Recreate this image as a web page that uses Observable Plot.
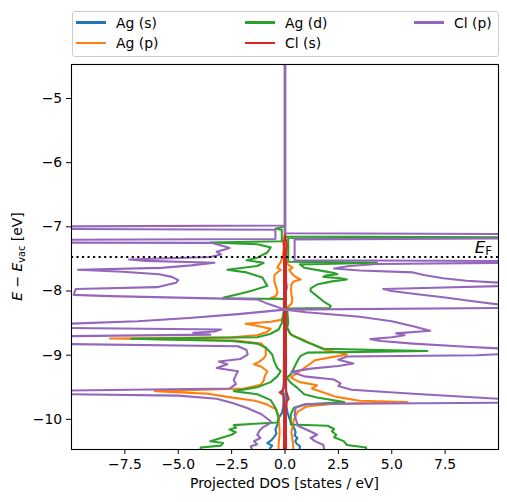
<!DOCTYPE html>
<html><head><meta charset="utf-8">
<script src="https://cdn.jsdelivr.net/npm/d3@7"></script>
<script src="https://cdn.jsdelivr.net/npm/@observablehq/plot@0.6"></script>
<style>
body{margin:0;background:#fff;font-family:"DejaVu Sans",sans-serif;}
#wrap{position:relative;width:507px;height:502px;overflow:hidden;}
#chart{position:absolute;left:0;top:0;}
#legend{position:absolute;left:71.5px;top:10.5px;width:427px;height:46px;border:1px solid #cccccc;border-radius:3px;background:rgba(255,255,255,0.8);box-sizing:border-box;font-size:13.9px;color:#000;z-index:2;}
.item{position:absolute;display:flex;align-items:center;height:16px;white-space:nowrap;}
.sw{width:29.5px;height:2.1px;margin-right:10.5px;}
</style></head>
<body><div id="wrap"><div id="chart"></div><div id="legend"></div></div>
<script>
const EF = -7.47;
const xLimits = [-10, 10];
const yLimits = [-10.47, -4.47];
const xTicks = [-7.5, -5, -2.5, 0, 2.5, 5, 7.5];
const yTicks = [-10, -9, -8, -7, -6, -5];
const species = ["Ag (s)", "Ag (p)", "Ag (d)", "Cl (s)", "Cl (p)"];
const colors = ["#1f77b4", "#ff7f0e", "#2ca02c", "#d62728", "#9467bd"];

// [energy (eV), projected DOS] pairs, spin up (+) and spin down (-)
const agS_up = [[-4.3,0],[-7.2,0],[-7.5,0.03],[-8.3,0.04],[-9.0,0.05],[-9.5,0.05],[-9.8,0.07],[-9.9,0.12],[-10.0,0.22],[-10.06,0.3],[-10.13,0.42],[-10.2,0.5],[-10.25,0.45],[-10.29,0.58],[-10.34,0.48],[-10.38,0.55],[-10.42,0.7],[-10.6,0.62]];
const agS_dn = [[-4.3,0],[-7.2,0],[-7.5,-0.03],[-8.3,-0.04],[-9.0,-0.05],[-9.5,-0.06],[-9.55,-0.12],[-9.6,-0.06],[-9.8,-0.08],[-9.9,-0.14],[-9.97,-0.28],[-10.03,-0.3],[-10.1,-0.38],[-10.16,-0.45],[-10.22,-0.4],[-10.27,-0.5],[-10.32,-0.62],[-10.37,-0.83],[-10.41,-0.6],[-10.45,-0.7],[-10.6,-0.72]];
const agP_up = [[-4.3,0],[-7.45,0],[-7.53,0.05],[-7.58,0.12],[-7.636,0.35],[-7.67,0.2],[-7.72,0.3],[-7.77,0.45],[-7.8,0.6],[-7.82,0.73],[-7.85,0.4],[-7.9,0.3],[-7.98,0.28],[-8.05,0.3],[-8.12,0.35],[-8.2,0.3],[-8.26,0.1],[-8.4,0.05],[-8.55,0.08],[-8.65,0.2],[-8.7,0.4],[-8.75,0.8],[-8.8,1.1],[-8.86,1.5],[-8.92,1.9],[-8.97,2.7],[-8.99,2.9],[-9.03,2.2],[-9.08,1.4],[-9.13,1.2],[-9.2,0.9],[-9.28,0.55],[-9.35,0.27],[-9.42,0.7],[-9.47,1.5],[-9.52,1.25],[-9.58,1.8],[-9.65,2.4],[-9.71,3.5],[-9.73,5.73],[-9.76,2.2],[-9.8,1.0],[-9.88,0.6],[-10.0,0.42],[-10.2,0.3],[-10.4,0.38],[-10.6,0.4]];
const agP_dn = [[-4.3,0],[-7.2,0],[-7.3,-0.05],[-7.45,-0.1],[-7.55,-0.2],[-7.6,-0.3],[-7.636,-0.36],[-7.67,-0.2],[-7.72,-0.4],[-7.76,-0.5],[-7.85,-0.5],[-7.95,-0.4],[-8.03,-0.35],[-8.08,-0.45],[-8.11,-0.67],[-8.125,-0.05],[-8.4,-0.05],[-8.45,-0.2],[-8.48,-0.67],[-8.51,-1.84],[-8.55,-1.2],[-8.59,-0.67],[-8.64,-0.85],[-8.69,-1.3],[-8.72,-2.5],[-8.74,-8.2],[-8.77,-2.3],[-8.82,-1.1],[-8.9,-0.9],[-9.0,-0.9],[-9.05,-1.0],[-9.1,-1.2],[-9.14,-1.45],[-9.18,-1.1],[-9.25,-0.83],[-9.33,-0.95],[-9.4,-1.0],[-9.46,-1.14],[-9.52,-1.9],[-9.56,-6.1],[-9.6,-3.6],[-9.65,-2.7],[-9.71,-1.4],[-9.77,-0.83],[-9.85,-0.4],[-9.95,-0.3],[-10.2,-0.25],[-10.4,-0.3],[-10.6,-0.3]];
const agD_up = [[-4.3,0],[-7.15,0],[-7.165,12],[-7.175,0.15],[-7.545,0.15],[-7.558,4.3],[-7.585,0.7],[-7.636,0.9],[-7.69,1.8],[-7.72,2.3],[-7.74,2.45],[-7.76,1.9],[-7.78,1.8],[-7.8,2.6],[-7.82,2.9],[-7.85,2.2],[-7.9,1.5],[-7.96,1.2],[-8.0,1.2],[-8.08,1.5],[-8.16,1.8],[-8.23,2.14],[-8.265,2.1],[-8.275,0.1],[-8.5,0.15],[-8.57,0.1],[-8.68,0.27],[-8.78,0.9],[-8.86,1.5],[-8.9,1.8],[-8.935,6.67],[-8.96,1.05],[-9.01,0.73],[-9.09,0.58],[-9.2,0.42],[-9.3,0.27],[-9.35,0.08],[-9.43,0.27],[-9.51,0.58],[-9.61,0.9],[-9.66,1.5],[-9.73,2.77],[-9.77,0.9],[-9.82,0.42],[-9.92,0.27],[-10.08,0.27],[-10.1,2.0],[-10.15,2.3],[-10.19,2.2],[-10.24,2.4],[-10.28,2.3],[-10.34,2.75],[-10.4,2.9],[-10.44,3.8],[-10.6,3.8]];
const agD_dn = [[-4.3,0],[-6.99,0],[-7.03,-0.45],[-7.045,-0.15],[-7.225,-0.15],[-7.245,-3.5],[-7.27,-1.3],[-7.32,-0.67],[-7.4,-0.83],[-7.48,-1.3],[-7.52,-1.8],[-7.56,-1.0],[-7.61,-1.3],[-7.67,-2.7],[-7.71,-1.8],[-7.79,-1.06],[-7.92,-0.83],[-8.0,-1.6],[-8.05,-2.2],[-8.1,-2.86],[-8.115,-2.9],[-8.125,-0.05],[-8.3,-0.05],[-8.5,-0.15],[-8.6,-0.3],[-8.67,-0.7],[-8.72,-1.3],[-8.745,-7.2],[-8.78,-2.5],[-8.82,-1.3],[-8.88,-0.9],[-8.99,-0.6],[-9.1,-0.5],[-9.2,-0.36],[-9.25,-0.2],[-9.33,-0.36],[-9.42,-0.67],[-9.5,-1.3],[-9.56,-2.4],[-9.61,-1.3],[-9.7,-0.67],[-9.82,-0.45],[-9.98,-0.3],[-10.05,-0.35],[-10.07,-1.4],[-10.09,-2.4],[-10.13,-2.3],[-10.16,-2.6],[-10.2,-2.3],[-10.24,-2.5],[-10.29,-3.0],[-10.34,-3.5],[-10.37,-2.9],[-10.41,-3.0],[-10.44,-3.95],[-10.6,-3.95]];
const clS_up = [[-4.3,0],[-7.12,0],[-7.2,0.04],[-7.3,0.08],[-7.4,0.04],[-7.85,0.05],[-7.95,0.08],[-8.0,0.04],[-9.55,0.04],[-9.68,0.17],[-9.72,0.08],[-9.8,0.04],[-10.6,0.05]];
const clS_dn = [[-4.3,0],[-7.12,0],[-7.2,-0.04],[-7.25,-0.08],[-7.3,-0.04],[-7.5,-0.04],[-9.45,-0.04],[-9.55,-0.1],[-9.58,-0.25],[-9.62,-0.08],[-9.7,-0.04],[-10.6,-0.05]];
const clP_up = [[-4.3,0],[-7.1,0],[-7.115,12],[-7.18,12],[-7.195,0.45],[-7.52,0.45],[-7.535,12],[-7.555,12],[-7.58,4.3],[-7.61,3.0],[-7.65,2.3],[-7.68,3.5],[-7.71,6.0],[-7.75,6.5],[-7.8,7.4],[-7.84,8.5],[-7.88,10.5],[-7.92,10.5],[-7.95,7.0],[-7.97,4.6],[-8.0,5.0],[-8.05,6.2],[-8.1,7.5],[-8.16,8.8],[-8.23,10.5],[-8.26,12],[-8.29,0],[-8.33,1.0],[-8.4,3.5],[-8.47,5.0],[-8.55,6.0],[-8.62,6.8],[-8.66,5.2],[-8.69,5.6],[-8.72,5.0],[-8.75,4.0],[-8.78,4.5],[-8.82,6.0],[-8.87,8.5],[-8.91,11],[-8.97,11],[-9.0,9.0],[-9.02,2.9],[-9.07,2.5],[-9.13,3.2],[-9.17,2.5],[-9.21,1.2],[-9.26,0.3],[-9.33,0.9],[-9.38,2.3],[-9.44,2.6],[-9.48,2.5],[-9.54,3.1],[-9.6,6],[-9.7,11],[-9.74,11],[-9.76,1.0],[-9.82,0.5],[-9.93,0.45],[-10.1,0.6],[-10.19,1.2],[-10.24,1.5],[-10.29,1.2],[-10.34,1.4],[-10.4,1.8],[-10.6,1.9]];
const clP_dn = [[-4.3,0],[-6.98,0],[-6.995,-12],[-7.03,-12],[-7.045,-0.45],[-7.19,-0.45],[-7.205,-12],[-7.245,-12],[-7.25,-3.4],[-7.3,-2.9],[-7.33,-2.6],[-7.36,-2.9],[-7.39,-3.2],[-7.43,-3.0],[-7.47,-3.5],[-7.51,-7.3],[-7.53,-6.5],[-7.56,-3.3],[-7.6,-4.4],[-7.64,-5.8],[-7.67,-9.7],[-7.7,-7.6],[-7.74,-5.9],[-7.78,-5.3],[-7.83,-5.0],[-7.87,-5.1],[-7.91,-5.6],[-7.94,-6.0],[-7.97,-9.8],[-8.06,-9.9],[-8.08,-8.2],[-8.13,-1.3],[-8.2,-0.8],[-8.29,0],[-8.36,-2.2],[-8.42,-4.5],[-8.47,-6.9],[-8.51,-10.2],[-8.52,-12],[-8.57,-12],[-8.6,-3.0],[-8.63,-3.3],[-8.65,-4.3],[-8.68,-3.5],[-8.71,-12],[-8.82,-12],[-8.86,-2.2],[-8.92,-1.8],[-8.99,-1.75],[-9.06,-2.1],[-9.1,-3.1],[-9.14,-2.7],[-9.2,-3.2],[-9.25,-2.2],[-9.31,-2.3],[-9.39,-2.4],[-9.45,-2.3],[-9.52,-2.6],[-9.56,-12],[-9.6,-12],[-9.63,-5.0],[-9.68,-3.2],[-9.74,-2.5],[-9.82,-1.8],[-9.92,-1.1],[-10.03,-0.67],[-10.07,-0.75],[-10.13,-1.06],[-10.18,-1.2],[-10.24,-1.3],[-10.29,-1.15],[-10.34,-1.45],[-10.39,-1.3],[-10.42,-1.6],[-10.6,-1.4]];

const curves = [
  ["Ag (s)", "up", agS_up], ["Ag (s)", "down", agS_dn],
  ["Ag (p)", "up", agP_up], ["Ag (p)", "down", agP_dn],
  ["Ag (d)", "up", agD_up], ["Ag (d)", "down", agD_dn],
  ["Cl (s)", "up", clS_up], ["Cl (s)", "down", clS_dn],
  ["Cl (p)", "up", clP_up], ["Cl (p)", "down", clP_dn]
];
const rows = curves.flatMap(([sp, spin, pts]) => pts.map(([E, dos]) => ({species: sp, key: sp + " " + spin, E, dos})));

const W = 507, H = 502, mL = 71, mR = 9, mT = 64, mB = 53;
const plot = Plot.plot({
  width: W, height: H,
  marginLeft: mL, marginRight: mR, marginTop: mT, marginBottom: mB,
  style: {fontFamily: '"DejaVu Sans", sans-serif', fontSize: "13.9px", color: "black", background: "white"},
  x: {domain: xLimits},
  y: {domain: yLimits},
  color: {domain: species, range: colors},
  marks: [
    Plot.line(rows, {x: "dos", y: "E", z: "key", stroke: "species", strokeWidth: 2.08, clip: true}),
    Plot.ruleY([EF], {stroke: "black", strokeWidth: 2.08, strokeDasharray: "2.08,3.44"}),
    Plot.frame({stroke: "black", strokeWidth: 1.1}),
    Plot.axisX({ticks: xTicks, tickSize: 4.9, tickPadding: 4.4, tickFormat: d3.format(".1f"), label: null}),
    Plot.axisY({ticks: yTicks, tickSize: 4.9, tickPadding: 4.4, tickFormat: d3.format("d"), label: null})
  ]
});
document.getElementById("chart").appendChild(plot);

const svg = d3.select(plot);
const xs = plot.scale("x"), ys = plot.scale("y");
// x label
svg.append("text").attr("x", (mL + W - mR) / 2).attr("y", H - 14)
  .attr("text-anchor", "middle").attr("font-size", "13.9px").attr("fill", "black")
  .text("Projected DOS [states / eV]");
// y label
const yl = svg.append("text").attr("transform", `translate(22,${(mT + H - mB) / 2}) rotate(-90)`)
  .attr("text-anchor", "middle").attr("font-size", "13.9px").attr("fill", "black");
yl.append("tspan").attr("font-style", "italic").text("E");
yl.append("tspan").text(" \u2212 ");
yl.append("tspan").attr("font-style", "italic").text("E");
yl.append("tspan").attr("font-size", "9.7px").attr("dy", 3).text("vac");
yl.append("tspan").attr("dy", -3).text(" [eV]");
// Fermi level label
const ef = svg.append("text").attr("x", xs.apply(xLimits[1]) - 6).attr("y", ys.apply(EF) - 4)
  .attr("text-anchor", "end").attr("fill", "black");
ef.append("tspan").attr("font-style", "italic").attr("font-size", "16.7px").text("E");
ef.append("tspan").attr("font-size", "11.7px").attr("dy", 2).text("F");

// legend
const legendPos = [[3.5, 3], [3.5, 23.5], [172.5, 3], [172.5, 23.5], [341.5, 3]];
const leg = document.getElementById("legend");
species.forEach((s, i) => {
  const it = document.createElement("div");
  it.className = "item";
  it.style.left = legendPos[i][0] + "px";
  it.style.top = legendPos[i][1] + "px";
  const sw = document.createElement("span");
  sw.className = "sw"; sw.style.background = colors[i];
  const tx = document.createElement("span"); tx.textContent = s;
  it.appendChild(sw); it.appendChild(tx);
  leg.appendChild(it);
});
</script>
</body></html>
